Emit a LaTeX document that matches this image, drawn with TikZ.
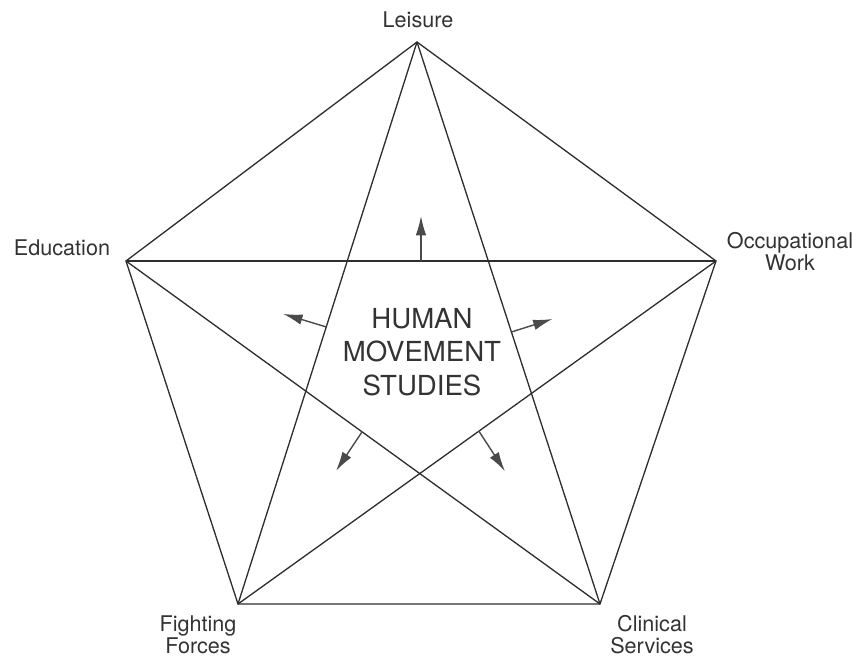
\documentclass[tikz,border=0pt]{standalone}
\usepackage{fontspec}
\setmainfont{TeX Gyre Heros}
\usepackage{tikz}
\usetikzlibrary{arrows.meta,calc}
\definecolor{cLine}{HTML}{2E2E2E}
\definecolor{cArrow}{HTML}{4A4A4A}
\definecolor{cText}{HTML}{333333}
\tikzset{
  edge/.style={draw=cLine, line width=0.75pt, line join=miter},
  arr/.style={-{Latex[length=11pt,width=6pt]}, line width=0.8pt, draw=cArrow, fill=cArrow},
  lbl/.style={font=\fontsize{12.3}{12}\selectfont, text=cText, align=center, inner sep=0pt, anchor=base},
  core/.style={font=\fontsize{15.7}{18.8}\selectfont, text=cText, align=center, inner sep=0pt, anchor=base}
}

\begin{document}
\begin{tikzpicture}[x=0.02cm, y=-0.02cm]
\useasboundingbox (0,0) rectangle (856,659);
% Corners of the pentagon
\coordinate (lei) at (417,42);
\coordinate (edu) at (126,261);
\coordinate (occ) at (716,261);
\coordinate (fig) at (238,604);
\coordinate (cli) at (600,604);
% Outer pentagon
\draw[edge] (lei) -- (occ) -- (cli) -- (fig) -- (edu) -- cycle;
% Star
\draw[edge] (lei) -- (fig); \draw[edge] (lei) -- (cli);
\draw[edge] (edu) -- (occ);
\draw[edge] (edu) -- (cli); \draw[edge] (occ) -- (fig);
% Corner labels (base = last line)
\node[lbl] (leisure) at (418,28) {Leisure};
\node[lbl] (education) at (62,255) {Education};
\node[lbl] (occwork) at (790,270) {Occupational\\Work};
\node[lbl] (fighting) at (198,653) {Fighting\\Forces};
\node[lbl] (clinical) at (652,653) {Clinical\\Services};
% Centre
\node[core] (hms) at (422,395) {HUMAN\\MOVEMENT\\STUDIES};
% Arrows pushing outwards from the inner pentagon
\coordinate (mUp) at ($(edu)!0.5!(occ)$);
\coordinate (mLeft) at ($(lei)!0.507!(fig)$);
\coordinate (mRight) at ($(lei)!0.516!(cli)$);
\coordinate (mDL) at ($(edu)!0.498!(cli)$);
\coordinate (mDR) at ($(occ)!0.496!(fig)$);
\coordinate (tUp) at ($(mUp)+(0,-45)$);
\coordinate (tLeft) at ($(mLeft)+(-43,-13)$);
\coordinate (tRight) at ($(mRight)+(41,-13)$);
\coordinate (tDL) at ($(mDL)+(-26,39)$);
\coordinate (tDR) at ($(mDR)+(26,40)$);
\draw[arr] (mUp) -- (tUp);
\draw[arr] (mLeft) -- (tLeft);
\draw[arr] (mRight) -- (tRight);
\draw[arr] (mDL) -- (tDL);
\draw[arr] (mDR) -- (tDR);
\end{tikzpicture}
\end{document}
